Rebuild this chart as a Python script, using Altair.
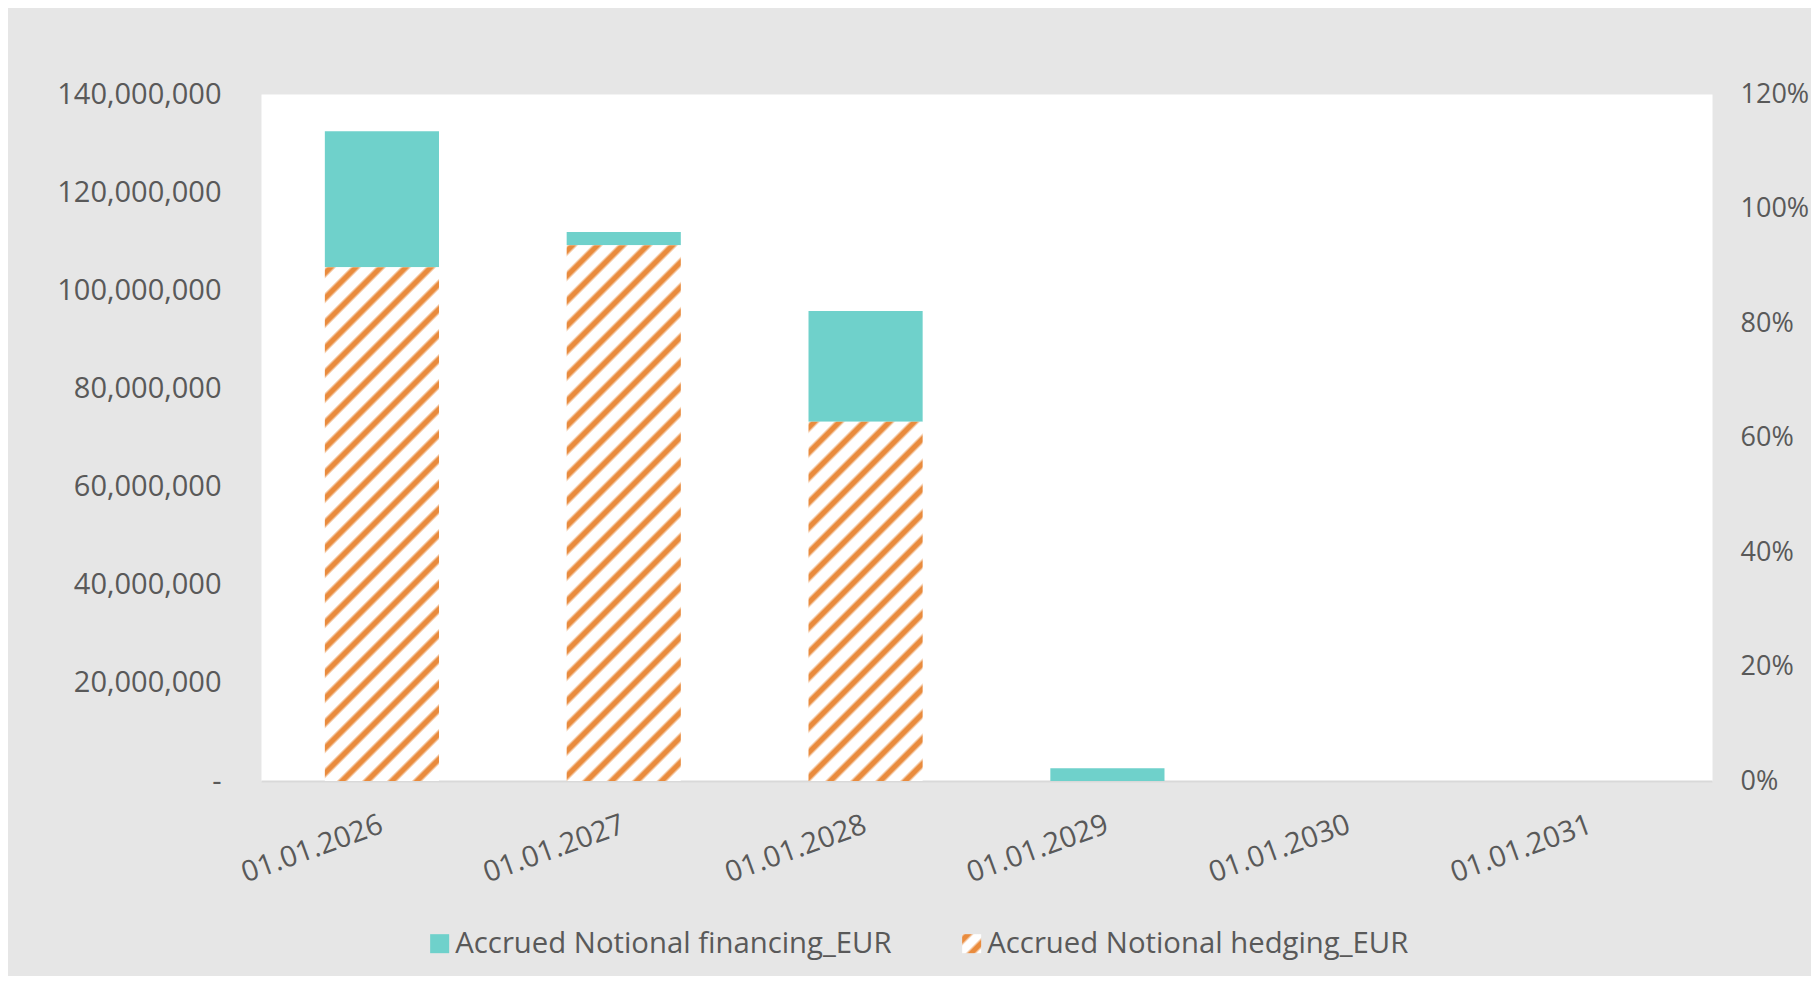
import altair as alt
import pandas as pd

# ---------------- data ----------------
dates = ["01.01.2026", "01.01.2027", "01.01.2028", "01.01.2029", "01.01.2030", "01.01.2031"]
financing = [27.7e6, 2.7e6, 22.6e6, 2.6e6, 0.0, 0.0]
hedging = [104.7e6, 109.2e6, 73.2e6, 0.0, 0.0, 0.0]
y_ticks = [0, 20e6, 40e6, 60e6, 80e6, 100e6, 120e6, 140e6]
pct_ticks = [0, 0.2, 0.4, 0.6, 0.8, 1.0, 1.2]

FIN = "Accrued Notional financing_EUR"
HED = "Accrued Notional hedging_EUR"

# ---------------- style ----------------
TEAL = "#6FD1CB"
ORANGE = "#E98B3D"
WHITE = "#FFFFFF"
GREY = "#595959"
BG = "#E6E6E6"
FONT = "Open Sans"
FS = 29

W, H = 1451, 687
YMAX = 140e6
P_IN, P_OUT = 0.528, 0.264
step = W / len(dates)
bandw = step * (1 - P_IN)

df = pd.DataFrame({
    "date": dates,
    "financing": financing,
    "hedging": hedging,
})
df["total"] = df["financing"] + df["hedging"]
df["series"] = FIN


def stripe_stops(w, h, period=25.0):
    tot = w + h
    profile = [(0.0, WHITE), (3.5, ORANGE), (8.5, ORANGE), (12.0, WHITE)]
    stops = [{"offset": 0.0, "color": WHITE}]
    pos = 0.0
    while pos < tot:
        for p, c in profile:
            q = pos + p
            if 0 < q < tot:
                stops.append({"offset": round(q / tot, 5), "color": c})
        pos += period
    stops.append({"offset": 1.0, "color": WHITE})
    return stops


def stripe_gradient(w, h, period=25.0):
    """45-degree '/' hatch made from a linear gradient (bbox units)."""
    tot = w + h
    d = w * w + h * h
    return {
        "gradient": "linear",
        "x1": 0, "y1": 0,
        "x2": round(tot * w / d, 5),
        "y2": round(tot * h / d, 5),
        "stops": stripe_stops(w, h, period),
    }


xscale = alt.Scale(paddingInner=P_IN, paddingOuter=P_OUT)
yscale = alt.Scale(domain=[0, YMAX], nice=False)

xaxis = alt.Axis(
    labelAngle=-20, labelAlign="right", labelBaseline="top", labelPadding=29,
    labelOffset=-5,
    labelFont=FONT, labelFontSize=FS, labelColor=GREY,
    ticks=False, tickSize=0, domain=True, domainColor="#D9D9D9", domainWidth=2,
    grid=False, title=None,
)
yaxis = alt.Axis(
    values=y_ticks,
    labelExpr="datum.value === 0 ? '-\u00a0\u00a0' : format(datum.value, ',')",
    labelPadding=40, labelFont=FONT, labelFontSize=FS, labelColor=GREY,
    ticks=False, tickSize=0, domain=False, grid=False, title=None,
)

hatch = alt.param(name="hatch", value=stripe_gradient(19, 19, period=22.0))
sym_expr = "datum.value === '%s' ? hatch : '%s'" % (HED, TEAL)

legend = alt.Legend(
    orient="none", legendX=164, legendY=835, direction="horizontal", title=None,
    symbolType="square", symbolSize=361, symbolStrokeWidth=0,
    symbolFillColor=alt.ExprRef(expr=sym_expr),
    labelFont=FONT, labelFontSize=29.3, labelColor=GREY, labelOffset=1,
    labelLimit=0, columnPadding=65, padding=0,
)

fin_layer = alt.Chart(df).mark_bar().encode(
    x=alt.X("date:N", sort=dates, scale=xscale, axis=xaxis),
    y=alt.Y("hedging:Q", scale=yscale, axis=yaxis),
    y2="total:Q",
    fill=alt.Fill("series:N", scale=alt.Scale(domain=[FIN], range=[TEAL]), legend=None),
    opacity=alt.Opacity("series:N", scale=alt.Scale(domain=[FIN, HED], range=[1, 1]),
                        legend=legend),
)

hed_layers = []
for d, v in zip(dates, hedging):
    if v <= 0:
        continue
    hpx = v / YMAX * H
    grad = stripe_gradient(bandw, hpx)
    hed_layers.append(
        alt.Chart(df).transform_filter(alt.datum.date == d).mark_bar(fill=grad).encode(
            x=alt.X("date:N", sort=dates, scale=xscale, axis=xaxis),
            y=alt.Y("hedging:Q", scale=yscale, axis=yaxis),
            y2=alt.datum(0),
        )
    )

bars = alt.layer(fin_layer, *hed_layers)

right = alt.Chart(pd.DataFrame({"pct": pct_ticks})).mark_point(opacity=0).encode(
    y=alt.Y("pct:Q", scale=alt.Scale(domain=[0, 1.2], nice=False),
            axis=alt.Axis(orient="right", values=pct_ticks, format=".0%",
                          labelPadding=28, labelAlign="left",
                          labelFont=FONT, labelFontSize=27, labelColor=GREY,
                          ticks=False, tickSize=0, domain=False, grid=False, title=None)),
)

chart = alt.layer(bars, right).resolve_scale(y="independent").add_params(hatch).properties(
    width=W, height=H,
    padding={"left": 253, "top": 86, "right": 99, "bottom": 195},
    autosize=alt.AutoSizeParams(type="none"),
    background=BG,
).configure_view(fill="white", stroke="transparent")

chart.save("out.html", embed_options={"renderer": "svg", "actions": False})
